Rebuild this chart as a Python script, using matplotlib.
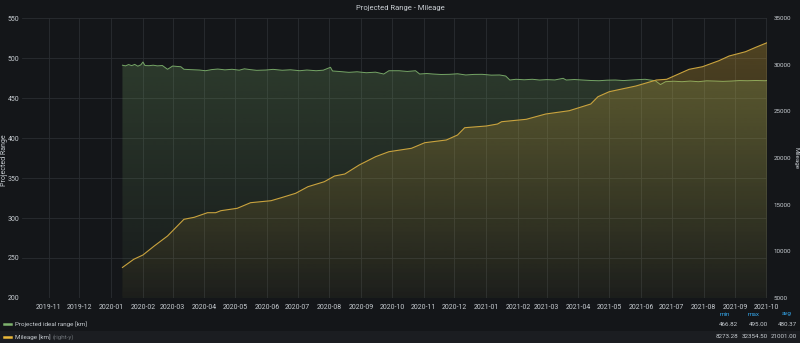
import numpy as np
import pandas as pd
import matplotlib
matplotlib.use("Agg")
import matplotlib.pyplot as plt
import matplotlib.dates as mdates
from matplotlib.colors import to_rgb
from matplotlib.lines import Line2D
from matplotlib.patches import Rectangle

# ---- data -------------------------------------------------------------
range_dates = [
    "2020-01-12", "2020-01-15", "2020-01-18", "2020-01-21", "2020-01-24", "2020-01-27",
    "2020-01-30", "2020-02-01", "2020-02-03", "2020-02-07", "2020-02-11", "2020-02-15",
    "2020-02-20", "2020-02-25", "2020-03-01", "2020-03-05", "2020-03-09", "2020-03-12",
    "2020-03-18", "2020-03-27", "2020-04-02", "2020-04-08", "2020-04-14", "2020-04-21",
    "2020-04-28", "2020-05-05", "2020-05-10", "2020-05-15", "2020-05-22", "2020-05-31",
    "2020-06-07", "2020-06-16", "2020-06-24", "2020-07-03", "2020-07-10", "2020-07-19",
    "2020-07-26", "2020-08-02", "2020-08-04", "2020-08-12", "2020-08-20", "2020-08-28",
    "2020-09-06", "2020-09-15", "2020-09-23", "2020-09-28", "2020-10-08", "2020-10-16",
    "2020-10-24", "2020-10-28", "2020-11-04", "2020-11-10", "2020-11-18", "2020-11-26",
    "2020-12-04", "2020-12-12", "2020-12-20", "2020-12-28", "2021-01-06", "2021-01-14",
    "2021-01-20", "2021-01-24", "2021-01-30", "2021-02-07", "2021-02-15", "2021-02-22",
    "2021-03-01", "2021-03-09", "2021-03-17", "2021-03-20", "2021-03-28", "2021-04-05",
    "2021-04-13", "2021-04-21", "2021-04-29", "2021-05-07", "2021-05-15", "2021-05-23",
    "2021-05-30", "2021-06-05", "2021-06-15", "2021-06-20", "2021-06-25", "2021-07-03",
    "2021-07-11", "2021-07-19", "2021-07-27", "2021-08-04", "2021-08-12", "2021-08-20",
    "2021-08-28", "2021-09-05", "2021-09-13", "2021-09-21", "2021-09-30", "2021-10-02",
]
range_km = [
    491.0, 490.2, 491.8, 490.5, 492.0, 489.8,
    491.5, 495.0, 490.6, 490.4, 491.0, 490.2,
    490.6, 485.9, 490.0, 489.5, 489.1, 485.9,
    485.5, 485.0, 484.1, 485.5, 486.2, 485.2,
    485.9, 484.8, 486.5, 485.6, 484.6, 485.0,
    485.8, 484.7, 485.3, 484.1, 485.0, 484.1,
    484.8, 488.4, 483.8, 483.0, 482.1, 482.8,
    481.6, 482.3, 480.0, 484.1, 484.1, 483.2,
    484.1, 480.0, 480.6, 480.0, 479.4, 479.6,
    480.3, 478.8, 479.5, 479.6, 478.6, 478.8,
    477.5, 472.5, 473.4, 472.8, 473.4, 472.5,
    473.0, 472.6, 474.6, 472.5, 473.1, 472.5,
    471.9, 471.6, 472.3, 472.5, 471.8, 472.5,
    473.0, 473.4, 471.6, 466.8, 470.4, 471.0,
    470.4, 471.2, 470.4, 471.5, 471.2, 470.8,
    471.2, 471.8, 471.6, 471.9, 471.6, 471.8,
]

mileage_dates = [
    "2020-01-12", "2020-01-23", "2020-02-01", "2020-02-12", "2020-02-25", "2020-03-12",
    "2020-03-22", "2020-04-04", "2020-04-12", "2020-04-17", "2020-05-03", "2020-05-16",
    "2020-06-05", "2020-06-15", "2020-06-29", "2020-07-11", "2020-07-27", "2020-08-06",
    "2020-08-16", "2020-08-30", "2020-09-15", "2020-09-28", "2020-10-20", "2020-11-02",
    "2020-11-23", "2020-12-04", "2020-12-11", "2021-01-01", "2021-01-12", "2021-01-16",
    "2021-02-09", "2021-02-28", "2021-03-23", "2021-04-13", "2021-04-20", "2021-05-01",
    "2021-05-27", "2021-06-16", "2021-06-26", "2021-07-18", "2021-07-31", "2021-08-16",
    "2021-08-26", "2021-09-11", "2021-09-21", "2021-10-02",
]
mileage_km = [
    8273.28, 9146, 9607, 10571, 11643, 13432,
    13646, 14139, 14139, 14353, 14611, 15211,
    15425, 15746, 16218, 16925, 17461, 18071,
    18286, 19250, 20139, 20675, 21039, 21639,
    21929, 22464, 23246, 23429, 23643, 23889,
    24146, 24714, 25068, 25786, 26568, 27104,
    27714, 28357, 28432, 29504, 29782, 30425,
    30929, 31389, 31861, 32354.50,
]

legend_names = ["Projected ideal range [km]", "Mileage [km]"]
stat_headers = ["min", "max", "avg"]
range_stats = ["466.82", "495.00", "480.37"]
mileage_stats = ["8273.28", "32354.50", "21001.00"]

# ---- style ------------------------------------------------------------
BG = "#141619"
GRID = "#2a2d31"
TEXT = "#c7ccd1"
GREEN = "#7EB26D"
YELLOW = "#EAB839"
YELLOW_LINE = "#C9A33E"
BLUE = "#33a2e5"

plt.rcParams["font.family"] = ["Roboto", "DejaVu Sans"]

fig = plt.figure(figsize=(8, 3.43), dpi=100, facecolor=BG)
ax = fig.add_axes([0.0275, 0.1312, 0.9313, 0.8163])
ax.set_facecolor(BG)
ax2 = ax.twinx()
ax2.patch.set_visible(False)

xlim = (mdates.date2num(pd.Timestamp("2019-10-06")),
        mdates.date2num(pd.Timestamp("2021-10-02")))
ylim1 = (200, 550)
ylim2 = (5000, 35000)

rx = mdates.date2num(pd.to_datetime(range_dates))
mx = mdates.date2num(pd.to_datetime(mileage_dates))


def gradient_area(axis, x, y, base, color, a_bot, a_top, ylim, z):
    poly = axis.fill_between(x, y, base, facecolor="none", edgecolor="none")
    n = 256
    img = np.zeros((n, 1, 4))
    img[..., :3] = to_rgb(color)
    img[..., 3] = np.linspace(a_bot, a_top, n)[:, None]
    im = axis.imshow(img, aspect="auto", origin="lower",
                     extent=[xlim[0], xlim[1], ylim[0], ylim[1]], zorder=z,
                     interpolation="bilinear")
    im.set_clip_path(poly.get_paths()[0], transform=axis.transData)


gradient_area(ax, rx, range_km, ylim1[0], GREEN, 0.03, 0.27, ylim1, 1)
ax.plot(rx, range_km, color=GREEN, lw=0.7, alpha=0.9, zorder=3)

gradient_area(ax2, mx, mileage_km, ylim2[0], YELLOW, 0.03, 0.30, ylim2, 1)
ax2.plot(mx, mileage_km, color=YELLOW_LINE, lw=0.8, zorder=3)

for a, yl in ((ax, ylim1), (ax2, ylim2)):
    a.set_xlim(*xlim)
    a.set_ylim(*yl)
    for s in a.spines.values():
        s.set_visible(False)

ax.set_yticks(np.arange(200, 551, 50))
ax2.set_yticks(np.arange(5000, 35001, 5000))
months = pd.date_range("2019-11-01", "2021-10-01", freq="MS")
ax.set_xticks(mdates.date2num(months))
ax.set_xticklabels([m.strftime("%Y-%m") for m in months])

ax.grid(True, color=GRID, lw=0.6)
ax.set_axisbelow(True)
ax2.grid(False)

ax.tick_params(axis="both", length=0, colors=TEXT, labelsize=5)
ax.tick_params(axis="x", pad=4)
ax.tick_params(axis="y", pad=2)
ax2.tick_params(axis="y", length=0, colors=TEXT, labelsize=4.5, pad=4.5)

H = 343.0
W = 800.0

# axis titles
fig.text(5 / W, 1 - 160 / H, "Projected Range", rotation=90, ha="center",
         va="center", color=TEXT, fontsize=5)
fig.text(796 / W, 1 - 158 / H, "Mileage", rotation=270, ha="center",
         va="center", color=TEXT, fontsize=4.5)

fig.text(0.5, 0.985, "Projected Range - Mileage", ha="center", va="top",
         color=TEXT, fontsize=5.5)

# ---- legend table -----------------------------------------------------
fig.patches.append(Rectangle((0, 0), 1, 12.5 / H, transform=fig.transFigure,
                             facecolor="#1b1d21", edgecolor="none", zorder=0))

header_x = [725, 754, 787]
for hx, h in zip(header_x, stat_headers):
    fig.text(hx / W, 1 - 314 / H, h, ha="center", va="center",
             color=BLUE, fontsize=4.5)

rows = [(324, GREEN, legend_names[0], None, range_stats),
        (337, YELLOW, legend_names[1], "(right-y)", mileage_stats)]
value_right = [738, 768, 797]
for ypx, col, name, extra, stats in rows:
    yy = 1 - ypx / H
    fig.add_artist(Line2D([4 / W, 11 / W], [yy, yy], color=col, lw=1.8,
                          transform=fig.transFigure))
    fig.text(15 / W, yy, name, ha="left", va="center", color=TEXT, fontsize=4.5)
    if extra:
        fig.text(53 / W, yy, extra, ha="left", va="center", color="#6e7378",
                 fontsize=4.5)
    for vx, s in zip(value_right, stats):
        fig.text(vx / W, yy, s, ha="right", va="center", color=TEXT,
                 fontsize=4.5)

fig.savefig("out.png", dpi=100, facecolor=BG)
